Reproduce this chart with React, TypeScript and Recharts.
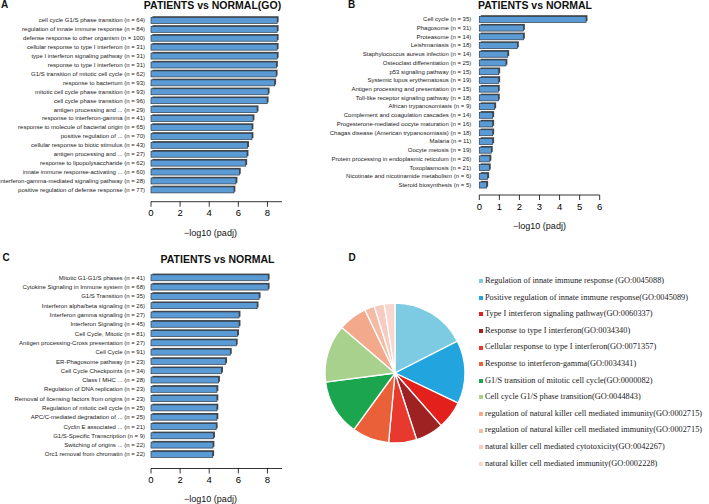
import React from 'react';
import { BarChart, Bar, XAxis, YAxis, PieChart, Pie, Cell } from 'recharts';

const goTerms = [
  'cell cycle G1/S phase transition (n = 64)',
  'regulation of innate immune response (n = 84)',
  'defense response to other organism (n = 100)',
  'cellular response to type I interferon (n = 31)',
  'type I interferon signaling pathway (n = 31)',
  'response to type I interferon (n = 31)',
  'G1/S transition of mitotic cell cycle (n = 62)',
  'response to bacterium (n = 93)',
  'mitotic cell cycle phase transition (n = 93)',
  'cell cycle phase transition (n = 96)',
  'antigen processing and ... (n = 29)',
  'response to interferon-gamma (n = 41)',
  'response to molecule of bacterial origin (n = 65)',
  'positive regulation of ... (n = 70)',
  'cellular response to biotic stimulus (n = 43)',
  'antigen processing and ... (n = 27)',
  'response to lipopolysaccharide (n = 62)',
  'innate immune response-activating ... (n = 60)',
  'interferon-gamma-mediated signaling pathway (n = 28)',
  'positive regulation of defense response (n = 77)',
];
const goValues = [8.67, 8.67, 8.67, 8.67, 8.67, 8.62, 8.6, 8.5, 8.05, 7.98, 7.29, 7.01, 6.94, 6.94, 6.64, 6.6, 6.51, 6.07, 5.84, 5.7];

const keggTerms = [
  'Cell cycle (n = 35)',
  'Phagosome (n = 31)',
  'Proteasome (n = 14)',
  'Leishmaniasis (n = 18)',
  'Staphylococcus aureus infection (n = 14)',
  'Osteoclast differentiation (n = 25)',
  'p53 signaling pathway (n = 15)',
  'Systemic lupus erythematosus (n = 19)',
  'Antigen processing and presentation (n = 15)',
  'Toll-like receptor signaling pathway (n = 18)',
  'African trypanosomiasis (n = 9)',
  'Complement and coagulation cascades (n = 14)',
  'Progesterone-mediated oocyte maturation (n = 16)',
  'Chagas disease (American trypanosomiasis) (n = 18)',
  'Malaria (n = 11)',
  'Oocyte meiosis (n = 19)',
  'Protein processing in endoplasmic reticulum (n = 26)',
  'Toxoplasmosis (n = 21)',
  'Nicotinate and nicotinamide metabolism (n = 6)',
  'Steroid biosynthesis (n = 5)',
];
const keggValues = [5.32, 2.2, 2.2, 1.9, 1.42, 1.33, 0.97, 0.97, 0.95, 0.95, 0.77, 0.67, 0.67, 0.67, 0.67, 0.6, 0.53, 0.5, 0.42, 0.37];

const reactomeTerms = [
  'Mitotic G1-G1/S phases (n = 41)',
  'Cytokine Signaling in Immune system (n = 68)',
  'G1/S Transition (n = 35)',
  'Interferon alpha/beta signaling (n = 26)',
  'Interferon gamma signaling (n = 27)',
  'Interferon Signaling (n = 45)',
  'Cell Cycle, Mitotic (n = 81)',
  'Antigen processing-Cross presentation (n = 27)',
  'Cell Cycle (n = 91)',
  'ER-Phagosome pathway (n = 23)',
  'Cell Cycle Checkpoints (n = 34)',
  'Class I MHC ... (n = 28)',
  'Regulation of DNA replication (n = 23)',
  'Removal of licensing factors from origins (n = 23)',
  'Regulation of mitotic cell cycle (n = 25)',
  'APC/C-mediated degradation of ... (n = 25)',
  'Cyclin E associated ... (n = 21)',
  'G1/S-Specific Transcription (n = 9)',
  'Switching of origins ... (n = 22)',
  'Orc1 removal from chromatin (n = 22)',
];
const reactomeValues = [8.05, 8.05, 7.43, 7.29, 6.05, 6.05, 5.95, 5.86, 5.45, 5.13, 4.85, 4.64, 4.53, 4.53, 4.53, 4.53, 4.48, 4.3, 4.26, 4.24];

const pieTerms = [
  'Regulation of innate immune response (GO:0045088)',
  'Positive regulation of innate immune response(GO:0045089)',
  'Type I interferon signaling pathway(GO:0060337)',
  'Response to type I interferon(GO:0034340)',
  'Cellular response to type I interferon(GO:0071357)',
  'Response to interferon-gamma(GO:0034341)',
  'G1/S transition of mitotic cell cycle(GO:0000082)',
  'Cell cycle G1/S phase transition(GO:0044843)',
  'regulation of natural killer cell mediated immunity(GO:0002715)',
  'regulation of natural killer cell mediated immunity(GO:0002715)',
  'natural killer cell mediated cytotoxicity(GO:0042267)',
  'natural killer cell mediated immunity(GO:0002228)',
];
const pieCounts = [84, 70, 31, 31, 31, 41, 62, 64, 32, 11, 11, 12];
const pieColors = ['#7DCBE3', '#22A4DE', '#E3201B', '#9E2222', '#E8392E', '#EA6038', '#1BA54F', '#A9D18E', '#F2A98C', '#F4BBA5', '#F6CCC0', '#F8D8CE'];

const ticksGO = [0, 2, 4, 6, 8];
const ticksKEGG = [0, 1, 2, 3, 4, 5, 6];

const SANS = '"Liberation Sans", Arial, sans-serif';
const SERIF = '"Liberation Serif", "Times New Roman", serif';

const ShadowBar = (props: any) => {
  const { x, y, width, height } = props;
  if (width == null || height == null) return null;
  return (
    <g>
      <rect x={x + 1.4} y={y - 1.2} width={width} height={height} fill="#4a4a4a" />
      <rect x={x} y={y} width={width} height={height} fill="#5B9BD5" stroke="#2E3A46" strokeWidth={0.7} />
    </g>
  );
};

const CatTick = (props: any) => {
  const { x, y, payload } = props;
  return (
    <text x={x} y={y} dy="0.35em" textAnchor="end" fontSize={6} fontFamily={SANS} fill="#222">
      {payload.value}
    </text>
  );
};

type PanelProps = {
  terms: string[];
  values: number[];
  left: number;
  top: number;
  width: number;
  height: number;
  yWidth: number;
  marginTop: number;
  marginRight: number;
  xHeight: number;
  padBottom: number;
  domainMax: number;
  ticks: number[];
  tickGap: number;
  labelOffset: number;
  labelDx: number;
};

const HBarPanel = (p: PanelProps) => {
  const data = p.terms.map((t, i) => ({ term: t, value: p.values[i] }));
  return (
    <div style={{ position: 'absolute', left: p.left, top: p.top }}>
      <BarChart
        width={p.width}
        height={p.height}
        data={data}
        layout="vertical"
        barCategoryGap="18%"
        margin={{ top: p.marginTop, right: p.marginRight, bottom: 0, left: 0 }}
        style={{ overflow: 'visible' }}
      >
        <XAxis
          type="number"
          domain={[0, p.domainMax]}
          ticks={p.ticks}
          height={p.xHeight}
          tickSize={5}
          tickMargin={3}
          axisLine={{ stroke: '#000', strokeWidth: 0.8 }}
          tickLine={{ stroke: '#000', strokeWidth: 0.8 }}
          tick={{ fontSize: 9.5, fill: '#000', fontFamily: SANS }}
          label={{ value: '\u2212log10 (padj)', position: 'insideBottom', offset: p.labelOffset, dx: p.labelDx, fontSize: 9, fill: '#111', fontFamily: SANS }}
        />
        <YAxis
          type="category"
          dataKey="term"
          width={p.yWidth}
          interval={0}
          tickLine={false}
          axisLine={false}
          tickSize={0}
          tickMargin={p.tickGap}
          tick={<CatTick />}
          padding={{ top: 0, bottom: p.padBottom }}
        />
        <Bar dataKey="value" shape={<ShadowBar />} isAnimationActive={false} />
      </BarChart>
    </div>
  );
};

const Title = ({ text, cx, cy, size }: { text: string; cx: number; cy: number; size: number }) => (
  <div
    style={{
      position: 'absolute',
      left: cx,
      top: cy - 7,
      height: 14,
      lineHeight: '14px',
      transform: 'translateX(-50%)',
      whiteSpace: 'nowrap',
      fontFamily: SANS,
      fontWeight: 'bold',
      fontSize: size,
      color: '#111',
    }}
  >
    {text}
  </div>
);

export default function App() {
  const pieData = pieTerms.map((t, i) => ({ name: t, value: pieCounts[i] }));
  return (
    <div style={{ position: 'absolute', left: 0, top: 0, width: 709, height: 504, background: '#fff', overflow: 'hidden' }}>
      <HBarPanel
        terms={goTerms}
        values={goValues}
        left={0}
        top={0}
        width={300}
        height={240}
        yWidth={151}
        marginTop={15.8}
        marginRight={18}
        xHeight={38.3}
        padBottom={7.5}
        domainMax={9}
        ticks={ticksGO}
        tickGap={6}
        labelOffset={4}
        labelDx={-6}
      />
      <HBarPanel
        terms={keggTerms}
        values={keggValues}
        left={315}
        top={0}
        width={300}
        height={232}
        yWidth={164.3}
        marginTop={14.8}
        marginRight={15.3}
        xHeight={37}
        padBottom={5.8}
        domainMax={6}
        ticks={ticksKEGG}
        tickGap={8}
        labelOffset={3}
        labelDx={0}
      />
      <HBarPanel
        terms={reactomeTerms}
        values={reactomeValues}
        left={0}
        top={250}
        width={300}
        height={254}
        yWidth={151}
        marginTop={23.1}
        marginRight={18}
        xHeight={35.5}
        padBottom={9.5}
        domainMax={9}
        ticks={ticksGO}
        tickGap={6}
        labelOffset={2.5}
        labelDx={-6}
      />

      <Title text="A" cx={4.5} cy={5} size={10} />
      <Title text="PATIENTS vs NORMAL(GO)" cx={212.5} cy={5} size={10.5} />
      <Title text="B" cx={351.5} cy={5} size={10} />
      <Title text="PATIENTS vs NORMAL" cx={535} cy={5} size={10.5} />
      <Title text="C" cx={6} cy={258} size={10} />
      <Title text="PATIENTS vs NORMAL" cx={217.5} cy={259} size={10.5} />
      <Title text="D" cx={352} cy={257.5} size={10} />

      <div style={{ position: 'absolute', left: 290, top: 268 }}>
        <PieChart width={200} height={200}>
          <Pie
            data={pieData}
            dataKey="value"
            nameKey="name"
            cx={100}
            cy={100}
            outerRadius={70}
            startAngle={90}
            endAngle={-270}
            stroke="#fff"
            strokeWidth={1.3}
            isAnimationActive={false}
          >
            {pieData.map((d, i) => (
              <Cell key={i} fill={pieColors[i]} />
            ))}
          </Pie>
        </PieChart>
      </div>

      <div style={{ position: 'absolute', left: 479, top: 273 }}>
        {pieTerms.map((t, i) => (
          <div
            key={i}
            style={{
              height: 16.6,
              lineHeight: '16.6px',
              whiteSpace: 'nowrap',
              fontFamily: SERIF,
              fontSize: 8.3,
              color: '#222',
              display: 'flex',
              alignItems: 'center',
            }}
          >
            <span style={{ display: 'inline-block', width: 4, height: 4, background: pieColors[i], marginRight: 2 }} />
            {t}
          </div>
        ))}
      </div>
    </div>
  );
}
